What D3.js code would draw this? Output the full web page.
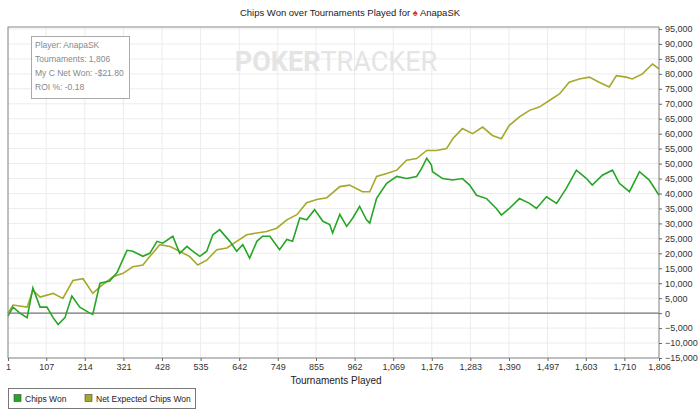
<!DOCTYPE html>
<html><head><meta charset="utf-8">
<script src="https://cdn.jsdelivr.net/npm/d3@7"></script>
<style>body{margin:0;background:#fff;font-family:Arial,"Liberation Sans",sans-serif}</style>
</head><body><div class="chart"></div>
<script>
const xTicks = [1,107,214,321,428,535,642,749,855,962,1069,1176,1283,1390,1497,1603,1710,1806];
const yTicks = d3.range(-15000, 95001, 5000);
// chips in thousands, read at these tournament numbers
const chipsT = [1,15,34,54,70,90,109,126,140,159,178,200,228,236,256,283,303,331,347,375,394,414,430,458,477,497,513,533,552,569,588,616,635,652,671,691,707,727,754,774,790,810,829,851,874,893,901,921,940,957,976,995,1004,1023,1051,1079,1106,1134,1148,1162,1175,1178,1206,1234,1261,1281,1300,1328,1355,1369,1391,1419,1447,1466,1494,1522,1549,1577,1605,1621,1649,1677,1696,1724,1752,1779,1806];
const chipsWon = [-1,2,0,-1.5,8.4,2,2,-1.5,-3.8,-1.5,5.7,2,0,-0.4,10,10.7,13.5,21,20.7,19,20,24,23.4,25.7,20,22.3,20.7,19,20.7,26.2,27.9,24,20.7,22.9,18.4,24,25.7,25.7,21.2,24.6,24,31.8,31.2,34.6,30.7,29.6,26.8,33,29,31.8,35.7,31.2,30.1,38.4,43.4,45.7,45,45.7,48.4,51.8,49.5,47.3,45,44.5,45,42.8,39.4,38.3,35,32.8,35,38.3,36.7,35,38.9,36.7,41.7,47.8,45,42.8,46.1,47.8,43.4,40.6,47.3,44.5,39.4];
const expT = [1,15,54,70,90,126,153,181,209,236,256,292,320,347,375,394,422,450,477,505,527,552,580,608,635,663,691,718,746,774,802,829,857,885,921,948,984,1004,1023,1051,1079,1106,1134,1162,1189,1217,1234,1261,1289,1317,1344,1369,1391,1419,1447,1474,1502,1530,1557,1585,1613,1640,1668,1688,1715,1732,1760,1788,1806];
const netExpected = [0,2.7,2,7.7,5.4,6.6,4.9,10.9,11.5,6.6,8.8,12.2,13.3,15.5,16.1,18.9,22.9,22.3,20.7,18.9,16.1,17.7,21.2,21.8,24,26.2,26.8,27.3,28.4,31.2,32.9,36.9,38,38.6,42.3,42.8,40.6,40.6,45.7,46.7,47.8,51.1,51.7,54.4,54.4,55,58.3,61.7,60,62.2,59.4,58.3,62.8,65.6,67.8,68.9,71.1,73.3,77.2,78.3,78.9,77.2,75.6,79.4,78.9,78.3,80,83.3,81.7];

const W = 700, H = 412;
const svg = d3.select('.chart').append('svg').attr('width', W).attr('height', H);
const pl = 8, pr = 659, pt = 27, pb = 358;

const x = d3.scaleLinear().domain([1, 1806]).range([pl, pr]);
const y = d3.scaleLinear().domain([-15000, 95000]).range([pb, pt + 2]);

const toPts = (ts, vs) => ts.map((t, i) => [t, vs[i] * 1000]);

// grid
svg.append('g').selectAll('line').data(xTicks).join('line')
  .attr('x1', d => x(d)).attr('x2', d => x(d)).attr('y1', pt).attr('y2', pb)
  .attr('stroke', '#ececec');
svg.append('g').selectAll('line').data(yTicks).join('line')
  .attr('x1', pl).attr('x2', pr).attr('y1', d => y(d)).attr('y2', d => y(d))
  .attr('stroke', '#ececec');

// watermark
const wm = svg.append('text').attr('x', 336).attr('y', 71).attr('text-anchor', 'middle')
  .attr('font-size', 27).attr('fill', '#e4e4e4').attr('font-family', 'Roboto, Arial');
wm.append('tspan').attr('font-weight', 'bold').text('POKER');
wm.append('tspan').text('TRACKER');

svg.append('line').attr('x1', pl).attr('x2', pr).attr('y1', y(0)).attr('y2', y(0))
  .attr('stroke', '#777').attr('stroke-width', 1.2);

const line = d3.line().x(d => x(d[0])).y(d => y(d[1]));
svg.append('path').datum(toPts(expT, netExpected)).attr('d', line)
  .attr('fill', 'none').attr('stroke', '#a6a82a').attr('stroke-width', 1.6);
svg.append('path').datum(toPts(chipsT, chipsWon)).attr('d', line)
  .attr('fill', 'none').attr('stroke', '#26a526').attr('stroke-width', 1.6);

// frame
svg.append('rect').attr('x', pl).attr('y', pt).attr('width', pr - pl).attr('height', pb - pt)
  .attr('fill', 'none').attr('stroke', '#888');

// axes
const xAxis = svg.append('g').attr('transform', `translate(0,${pb})`)
  .call(d3.axisBottom(x).tickValues(xTicks).tickFormat(d3.format(',')).tickSize(3));
const yAxis = svg.append('g').attr('transform', `translate(${pr},0)`)
  .call(d3.axisRight(y).tickValues(yTicks).tickFormat(d3.format(',')).tickSize(3));
[xAxis, yAxis].forEach(g => {
  g.select('.domain').remove();
  g.selectAll('line').attr('stroke', '#666');
  g.selectAll('text').attr('font-size', 9).attr('fill', '#333');
});
yAxis.selectAll('text').attr('dy', '0.32em');

svg.append('text').attr('x', 336).attr('y', 384).attr('text-anchor', 'middle')
  .attr('font-size', 10).attr('fill', '#222').text('Tournaments Played');

// title
const title = svg.append('text').attr('x', 350).attr('y', 16).attr('text-anchor', 'middle')
  .attr('font-size', 9.5).attr('fill', '#222');
title.append('tspan').text('Chips Won over Tournaments Played for ');
title.append('tspan').attr('fill', '#e03020').text('♠ ');
title.append('tspan').text('AnapaSK');

// info box
svg.append('rect').attr('x', 31.5).attr('y', 36.5).attr('width', 98).attr('height', 62)
  .attr('fill', '#fff').attr('stroke', '#aaa');
['Player: AnapaSK', 'Tournaments: 1,806', 'My C Net Won: -$21.80', 'ROI %: -0.18'].forEach((t, i) => {
  svg.append('text').attr('x', 35).attr('y', 48 + i * 14).attr('font-size', 8.5)
    .attr('fill', '#888').text(t);
});

// legend
svg.append('rect').attr('x', 8.5).attr('y', 388.5).attr('width', 187).attr('height', 20)
  .attr('fill', '#fff').attr('stroke', '#777');
[['Chips Won', '#26a526', 14], ['Net Expected Chips Won', '#a6a82a', 85]].forEach(([t, c, lx]) => {
  svg.append('rect').attr('x', lx).attr('y', 394.5).attr('width', 7).attr('height', 7)
    .attr('fill', c).attr('stroke', '#444').attr('stroke-width', 0.6);
  svg.append('text').attr('x', lx + 11).attr('y', 402).attr('font-size', 8.5).attr('fill', '#222').text(t);
});
</script></body></html>
